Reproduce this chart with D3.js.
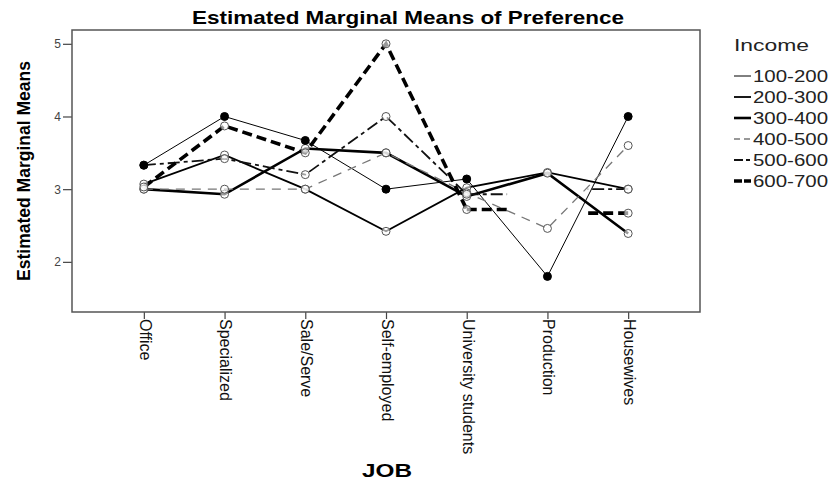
<!DOCTYPE html>
<html>
<head>
<meta charset="utf-8">
<script src="https://cdn.jsdelivr.net/npm/d3@7"></script>
<style>
  body { margin: 0; background: #fff; }
  svg { display: block; font-family: "Liberation Sans", Arial, sans-serif; }
</style>
</head>
<body>
<svg width="833" height="485"></svg>
<script>
// categories on the x axis
const jobs = ["Office", "Specialized", "Sale/Serve", "Self-employed", "University students", "Production", "Housewives"];
const incomes = ["100-200", "200-300", "300-400", "400-500", "500-600", "600-700"];

// estimated marginal means per income group (null = not estimable)
const inc100 = [3.33, 4.00, 3.67, 3.00, 3.14, 1.80, 4.00];
const inc200 = [3.07, 3.47, 3.00, 2.42, 3.02, 3.23, 3.00];
const inc300 = [3.00, 2.93, 3.56, 3.50, 2.90, 3.22, 2.39];
const inc400 = [3.00, 3.00, 3.00, 3.50, 2.95, 2.46, 3.60];
const inc500 = [3.33, 3.42, 3.20, 4.00, 2.93, null, 3.00];
const inc600 = [3.03, 3.87, 3.50, 5.00, 2.72, null, 2.67];

const yTicks = [2, 3, 4, 5];

const series = [
    { name: incomes[0], values: inc100, color: "#000", width: 1, dash: null, legendDash: null, filled: true },
    { name: incomes[1], values: inc200, color: "#000", width: 1.8, dash: null, legendDash: null },
    { name: incomes[2], values: inc300, color: "#000", width: 2.6, dash: null, legendDash: null },
    { name: incomes[3], values: inc400, color: "#777", width: 1.3, dash: "9,7", legendDash: "6,4" },
    { name: incomes[4], values: inc500, color: "#111", width: 1.8, dash: "12,4,4,4", legendDash: "9,3,4,3" },
    { name: incomes[5], values: inc600, color: "#000", width: 3.6, dash: "10,5", legendDash: "8,2" }
];

const svg = d3.select("svg");
const margin = { left: 72, top: 30, right: 700, bottom: 312 };

const x = d3.scalePoint()
    .domain(jobs)
    .range([margin.left, margin.right])
    .padding(0.89);

const y = d3.scaleLinear()
    .domain([1.31, 5.19])
    .range([margin.bottom, margin.top]);

// title
svg.append("text")
    .attr("x", 192).attr("y", 24)
    .attr("textLength", 432)
    .attr("lengthAdjust", "spacingAndGlyphs")
    .style("font-weight", "bold")
    .style("font-size", "19px")
    .text("Estimated Marginal Means of Preference");

// y axis
const yAxis = svg.append("g")
    .attr("transform", `translate(${margin.left},0)`)
    .call(d3.axisLeft(y).tickValues(yTicks).tickSize(9).tickFormat(d3.format("d")));
yAxis.select(".domain").remove();
yAxis.selectAll("line").attr("stroke", "#444").attr("stroke-width", 1.2);
yAxis.selectAll("text").attr("fill", "#444").style("font-size", "12px").attr("x", -11);

// x axis
const xAxis = svg.append("g")
    .attr("transform", `translate(0,${margin.bottom})`)
    .call(d3.axisBottom(x).tickSize(7));
xAxis.select(".domain").remove();
xAxis.selectAll("line").attr("stroke", "#444").attr("stroke-width", 1.2);
xAxis.selectAll("text")
    .attr("fill", "#111")
    .style("font-size", "16px")
    .attr("text-anchor", "start")
    .attr("dy", "0.35em")
    .attr("x", 0).attr("y", 0)
    .attr("transform", "translate(1,7) rotate(90)");

// plot frame
svg.append("rect")
    .attr("x", margin.left).attr("y", margin.top)
    .attr("width", margin.right - margin.left)
    .attr("height", margin.bottom - margin.top)
    .attr("fill", "none")
    .attr("stroke", "#555")
    .attr("stroke-width", 1.5);

// axis titles
svg.append("text")
    .attr("transform", `translate(30,${(margin.top + margin.bottom) / 2}) rotate(-90)`)
    .attr("text-anchor", "middle")
    .style("font-weight", "bold")
    .style("font-size", "17.5px")
    .text("Estimated Marginal Means");

svg.append("text")
    .attr("x", 362).attr("y", 477)
    .attr("textLength", 50)
    .attr("lengthAdjust", "spacingAndGlyphs")
    .style("font-weight", "bold")
    .style("font-size", "18px")
    .text("JOB");

// lines
const line = d3.line()
    .defined(d => d != null)
    .x((d, i) => x(jobs[i]))
    .y(d => y(d));

const step = x.step();
const g = svg.append("g");

series.forEach(s => {
    const styled = sel => sel
        .attr("fill", "none")
        .attr("stroke", s.color)
        .attr("stroke-width", s.width)
        .attr("stroke-dasharray", s.dash);

    g.append("path").datum(s.values).attr("d", line).call(styled);

    // half-length stubs toward a missing neighbour
    s.values.forEach((v, i) => {
        if (v == null) return;
        [-1, 1].forEach(dir => {
            const j = i + dir;
            if (j < 0 || j >= jobs.length || s.values[j] != null) return;
            g.append("line")
                .attr("x1", x(jobs[i])).attr("y1", y(v))
                .attr("x2", x(jobs[i]) + dir * step / 2).attr("y2", y(v))
                .call(styled);
        });
    });
});

// markers (filled ones drawn last so they stay on top)
series.slice().sort((a, b) => (a.filled ? 1 : 0) - (b.filled ? 1 : 0)).forEach(s => {
    g.selectAll(null)
        .data(s.values.map((v, i) => ({ v, i })).filter(d => d.v != null))
        .enter().append("circle")
        .attr("cx", d => x(jobs[d.i]))
        .attr("cy", d => y(d.v))
        .attr("r", 4)
        .attr("fill", s.filled ? "#000" : "#fff")
        .attr("fill-opacity", s.filled ? 1 : 0.6)
        .attr("stroke", s.filled ? "#000" : "#555")
        .attr("stroke-width", 1);
});

// legend
const legend = svg.append("g");
legend.append("text")
    .attr("x", 734).attr("y", 51)
    .attr("textLength", 75)
    .attr("lengthAdjust", "spacingAndGlyphs")
    .attr("fill", "#222")
    .style("font-size", "16px")
    .text("Income");

series.forEach((s, i) => {
    const ly = 76 + i * 21;
    legend.append("line")
        .attr("x1", 734).attr("x2", 751)
        .attr("y1", ly).attr("y2", ly)
        .attr("stroke", s.color)
        .attr("stroke-width", s.width)
        .attr("stroke-dasharray", s.legendDash);
    legend.append("text")
        .attr("x", 753).attr("y", ly)
        .attr("dy", "0.35em")
        .attr("textLength", 75)
        .attr("lengthAdjust", "spacingAndGlyphs")
        .attr("fill", "#222")
        .style("font-size", "16px")
        .text(s.name);
});
</script>
</body>
</html>
